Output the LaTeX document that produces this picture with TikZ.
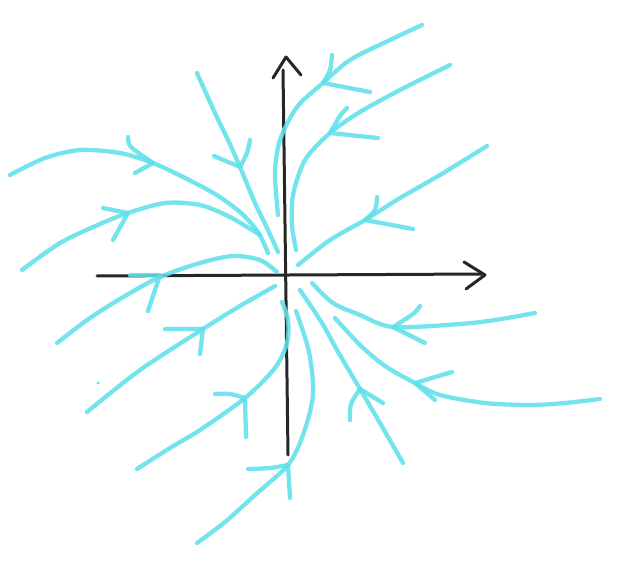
\documentclass[tikz,border=0pt]{standalone}
\begin{document}
\begin{tikzpicture}[x=1pt,y=-1pt]
\definecolor{trajcyan}{RGB}{96,224,234}
\definecolor{axisgray}{RGB}{38,38,38}
\tikzset{
  traj/.style={draw=trajcyan, line width=4.3pt, line cap=round, line join=round, opacity=0.88},
  axisline/.style={draw=axisgray, line width=3pt, line cap=round, line join=round},
}
\useasboundingbox (0,0) rectangle (621,572);
% axes
\draw[axisline] (97,276) -- (482,274);
\draw[axisline] (464,262) -- (485,275) -- (466,289);
\draw[axisline] (288,455) -- (283,70);
\draw[axisline] (273,78) -- (286,57) -- (301,75);
% trajectories
% C1
\draw[traj] plot[smooth] coordinates {(10,175) (45,158) (80,150) (120,153) (153,163) (185,178) (215,194) (240,212) (258,232) (268,253)};
\draw[traj] plot[smooth] coordinates {(128,137) (131,147) (153,163)} -- (135,173);
% C2
\draw[traj] plot[smooth] coordinates {(22,270) (60,243) (100,224) (128,213) (165,203) (200,205) (230,217) (260,235)};
\draw[traj] (103,208) -- (128,213) -- (113,240);
% C3
\draw[traj] plot[smooth] coordinates {(197,73) (215,113) (228,140) (240,167) (255,203) (267,228) (278,252)};
\draw[traj] plot[smooth] coordinates {(250,140) (247,153) (240,167)} -- (214,156);
% C4
\draw[traj] plot[smooth] coordinates {(57,343) (90,318) (125,296) (160,277) (200,263) (233,256) (260,260) (277,272)};
\draw[traj] (130,275) -- (160,275) -- (148,311);
% C5
\draw[traj] plot[smooth] coordinates {(87,412) (140,370) (203,329) (240,306) (275,286)};
\draw[traj] (165,329) -- (203,329) -- (200,354);
% C6
\draw[traj] plot[smooth] coordinates {(137,469) (170,448) (200,430) (245,398) (275,368) (287,343) (288,320) (282,302)};
\draw[traj] plot[smooth] coordinates {(215,394) (230,394) (245,398)} -- (246,437);
% C7
\draw[traj] plot[smooth] coordinates {(197,543) (225,522) (255,495) (288,465) (303,435) (313,395) (309,352) (296,311)};
\draw[traj] plot[smooth] coordinates {(248,469) (270,468) (288,465)} -- (290,498);
% C8
\draw[traj] plot[smooth] coordinates {(403,463) (380,423) (360,389) (337,350) (322,323) (300,290)};
\draw[traj] plot[smooth] coordinates {(350,420) (351,404) (360,389)} -- (383,403);
% C9
\draw[traj] plot[smooth] coordinates {(600,399) (565,403) (530,405) (485,403) (440,395) (415,383) (385,366) (360,345) (335,318)};
\draw[traj] (452,372) -- (415,383) -- (435,400);
% C10
\draw[traj] plot[smooth] coordinates {(535,313) (495,320) (460,324) (393,327) (360,315) (333,303) (312,283)};
\draw[traj] plot[smooth] coordinates {(420,306) (413,314) (393,327)} -- (425,343);
% C11
\draw[traj] plot[smooth] coordinates {(487,146) (440,175) (400,198) (365,220) (330,240) (298,265)};
\draw[traj] plot[smooth] coordinates {(377,197) (375,210) (365,220)} -- (413,229);
% C12
\draw[traj] plot[smooth] coordinates {(450,65) (400,90) (360,112) (330,133) (305,160) (293,195) (292,225) (296,250)};
\draw[traj] plot[smooth] coordinates {(347,108) (340,116) (330,133)} -- (378,138);
% C13
\draw[traj] plot[smooth] coordinates {(422,25) (390,40) (350,60) (323,83) (297,107) (280,140) (275,173) (278,215)};
\draw[traj] plot[smooth] coordinates {(332,55) (330,70) (323,83)} -- (370,92);
% stray dot
\fill[trajcyan] (98,383) circle (1.6pt);
\end{tikzpicture}
\end{document}
